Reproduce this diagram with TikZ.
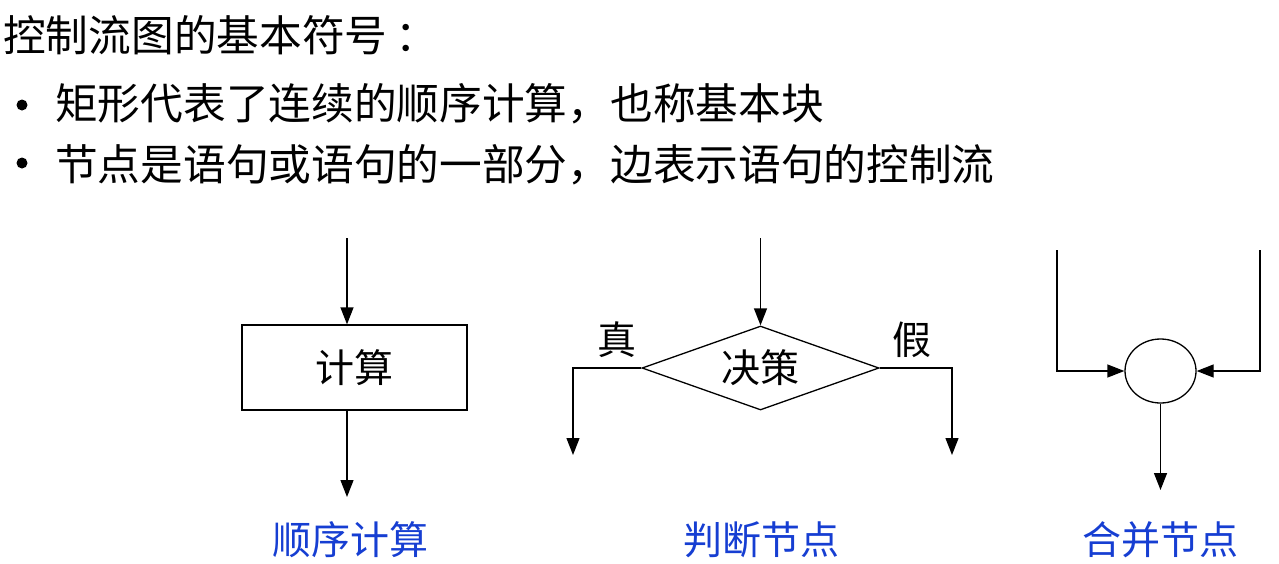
\documentclass[tikz,border=0pt]{standalone}
\usepackage{fontspec}
\setmainfont{Noto Sans CJK SC}
\usetikzlibrary{shapes.geometric, arrows.meta, positioning}
\definecolor{labelBlue}{RGB}{22,62,210}
\tikzset{
    >={Triangle[length=17pt, width=13pt]},
    % Text
    heading/.style={anchor=west, inner sep=0pt, font=\fontsize{42.7}{50}\selectfont},
    bulletDot/.style={circle, fill=black, inner sep=0pt, minimum size=11pt},
    caption/.style={inner sep=0pt, text=labelBlue, font=\fontsize{39}{46}\selectfont},
    % Shapes
    block/.style={rectangle, draw, line width=1.3pt, minimum width=225pt, minimum height=85pt,
                  font=\fontsize{39}{46}\selectfont},
    decision/.style={diamond, draw, line width=1.3pt, minimum width=237pt, minimum height=84pt,
                     inner sep=0pt},
    merge/.style={ellipse, draw, line width=1.3pt, minimum width=71pt, minimum height=64pt, inner sep=0pt},
    branchTxt/.style={inner sep=0pt, font=\fontsize{39}{46}\selectfont},
    % Flow
    flow/.style={->, line width=1.3pt},
    wire/.style={line width=1.3pt}
}
\begin{document}
\begin{tikzpicture}[x=1pt, y=-1pt]
\useasboundingbox (0,0) rectangle (1279,563);

% header text
\node[heading] (title) at (3,35) {控制流图的基本符号\kern8pt：};
\node[bulletDot] (dot1) at (22,105) {};
\node[heading] (line1) at (55,104) {矩形代表了连续的顺序计算，也称基本块};
\node[bulletDot] (dot2) at (22,163) {};
\node[heading] (line2) at (55,165) {节点是语句或语句的一部分，边表示语句的控制流};

% sequential computation
\coordinate (seqIn) at (347,238);
\node[block] (calc) at (354.5,367.5) {计算};
\coordinate (seqOut) at (347,497);
\draw[flow] (seqIn) -- (seqIn |- calc.north);
\draw[flow] (seqOut |- calc.south) -- (seqOut);
\node[caption] (seqLbl) at (350,540) {顺序计算};

% decision node
\coordinate (decIn) at (760.5,238);
\node[decision, label={[branchTxt]center:决策}] (dec) at (760.5,368) {};
\coordinate (trueOut) at (573,455);
\coordinate (falseOut) at (952,455);
\draw[flow] (decIn) -- (dec.north);
\draw[flow] (dec.west) -| (trueOut);
\draw[flow] (dec.east) -| (falseOut);
\node[branchTxt] (trueTxt) at (617,340) {真};
\node[branchTxt] (falseTxt) at (912,340) {假};
\node[caption] (decLbl) at (761,540) {判断节点};

% merge node
\node[merge] (join) at (1160.5,371) {};
\coordinate (leftIn) at (1057,250);
\coordinate (rightIn) at (1260,250);
\coordinate (joinOut) at (1160.5,490);
\draw[flow] (leftIn) |- (join.west);
\draw[flow] (rightIn) |- (join.east);
\draw[flow] (join.south) -- (joinOut);
\node[caption] (joinLbl) at (1160,540) {合并节点};

\end{tikzpicture}
\end{document}
